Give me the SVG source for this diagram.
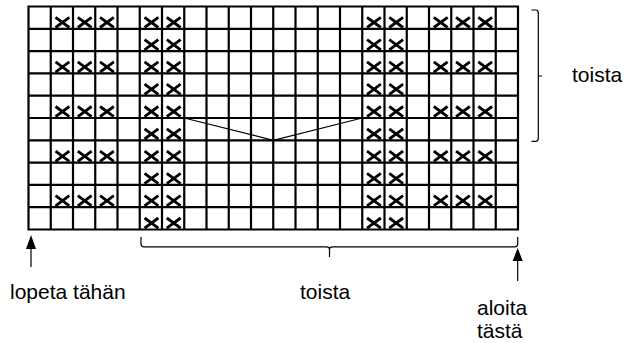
<svg xmlns="http://www.w3.org/2000/svg" xmlns:xlink="http://www.w3.org/1999/xlink" width="630" height="343" viewBox="0 0 630 343">
<style>
.grid{fill:none;stroke:#000;stroke-width:2.2}
.thin{fill:none;stroke:#000;stroke-width:1.2}
.lbl{font-family:"Liberation Sans",Arial,sans-serif;font-size:21px;fill:#000}
</style>
<defs>
<path id="x" d="M4.8 10.8 L18.6 21 M18.6 10.8 L4.8 21" fill="none" stroke="#000" stroke-width="2.8"/>
</defs>
<rect width="630" height="343" fill="#fff"/>
<g id="chart">
<path class="grid" d="M28.5 6.5H518V229.5H28.5Z
M50.75 6.5V229.5M73 6.5V229.5M95.25 6.5V229.5M117.5 6.5V229.5M139.75 6.5V229.5M162 6.5V229.5M184.25 6.5V229.5M206.5 6.5V229.5M228.75 6.5V229.5M251 6.5V229.5M273.25 6.5V229.5M295.5 6.5V229.5M317.75 6.5V229.5M340 6.5V229.5M362.25 6.5V229.5M384.5 6.5V229.5M406.75 6.5V229.5M429 6.5V229.5M451.25 6.5V229.5M473.5 6.5V229.5M495.75 6.5V229.5
M28.5 28.8H518M28.5 51.1H518M28.5 73.4H518M28.5 95.7H518M28.5 118H518M28.5 140.3H518M28.5 162.6H518M28.5 184.9H518M28.5 207.2H518"/>
</g>
<g id="marks">
<g id="row0" transform="translate(0,6.5)">
<use xlink:href="#x" x="50.75"/><use xlink:href="#x" x="73"/><use xlink:href="#x" x="95.25"/>
<use xlink:href="#x" x="139.75"/><use xlink:href="#x" x="162"/>
<use xlink:href="#x" x="362.25"/><use xlink:href="#x" x="384.5"/>
<use xlink:href="#x" x="429"/><use xlink:href="#x" x="451.25"/><use xlink:href="#x" x="473.5"/>
</g>
<g id="row1" transform="translate(0,28.8)">
<use xlink:href="#x" x="139.75"/><use xlink:href="#x" x="162"/>
<use xlink:href="#x" x="362.25"/><use xlink:href="#x" x="384.5"/>
</g>
<use xlink:href="#row0" y="44.6"/>
<use xlink:href="#row1" y="44.6"/>
<use xlink:href="#row0" y="89.2"/>
<use xlink:href="#row1" y="89.2"/>
<use xlink:href="#row0" y="133.8"/>
<use xlink:href="#row1" y="133.8"/>
<use xlink:href="#row0" y="178.4"/>
<use xlink:href="#row1" y="178.4"/>
</g>
<g id="connectors">
<path id="vline" class="thin" d="M184.25 118L273.25 140.3L362.25 118"/>
<path id="bracket-bottom" class="thin" d="M141 237V244Q141 246.8 144 246.8H326.5Q329.5 246.8 329.5 249.5V257M329.5 249.5Q329.5 246.8 332.5 246.8H514.7Q517.7 246.8 517.7 244V237"/>
<path id="bracket-right" class="thin" d="M531.5 10H535.5Q538.3 10 538.3 12.8V138.5Q538.3 141.3 535.5 141.3H531.5M538.3 76H542"/>
<g id="arrow-end">
<path class="thin" d="M31 247V267"/>
<path d="M31 235L26 249H36Z"/>
</g>
<g id="arrow-start">
<path class="thin" d="M517.7 259V281"/>
<path d="M517.7 248L512.7 261H522.7Z"/>
</g>
</g>
<g id="labels">
<text class="lbl" x="572" y="82">toista</text>
<text class="lbl" x="10" y="299">lopeta tähän</text>
<text class="lbl" x="300" y="299">toista</text>
<text class="lbl" x="477" y="315">aloita</text>
<text class="lbl" x="477" y="338">tästä</text>
</g>
</svg>
